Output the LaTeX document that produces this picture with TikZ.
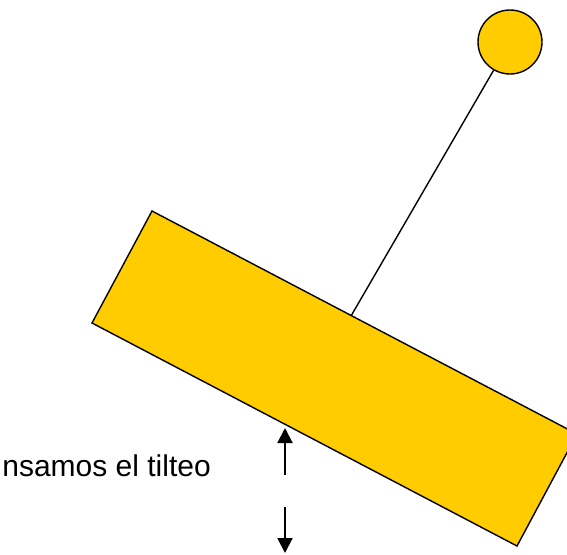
\documentclass[tikz,border=0pt]{standalone}
\usepackage{fontspec}
\setmainfont{Liberation Sans}
\usetikzlibrary{arrows.meta}
\definecolor{bloque}{HTML}{FFCC00}

\begin{document}
\begin{tikzpicture}[x=1pt,y=-1pt,
  pieza/.style={fill=bloque,draw=black,line width=1.4pt},
  flecha/.style={line width=2pt,-{Triangle[width=15pt,length=15pt]}}]
  \useasboundingbox (0,0) rectangle (567,554);
  \clip (0,0) rectangle (567,554);
  % bloque inclinado
  \coordinate (arriba) at (152,211);
  \coordinate (izq) at (92,323);
  \coordinate (abajo) at (517,546);
  \coordinate (der) at (577,434);
  \draw[pieza] (arriba) -- (izq) -- (abajo) -- (der) -- cycle;
  % varilla y bola
  \coordinate (base) at (351,316);
  \node[pieza,circle,minimum size=64pt,inner sep=0pt] (bola) at (510,42) {};
  \draw[line width=1.4pt] (base) -- (bola);
  \node[anchor=base east,inner sep=0pt,font=\fontsize{30}{32}\selectfont] (texto) at (211,476) {nsamos el tilteo};
  % flechas
  \coordinate (a1) at (285,475);
  \coordinate (a2) at (285,428);
  \coordinate (b1) at (285,507);
  \coordinate (b2) at (285,553);
  \draw[flecha] (a1) -- (a2);
  \draw[flecha] (b1) -- (b2);
\end{tikzpicture}
\end{document}
